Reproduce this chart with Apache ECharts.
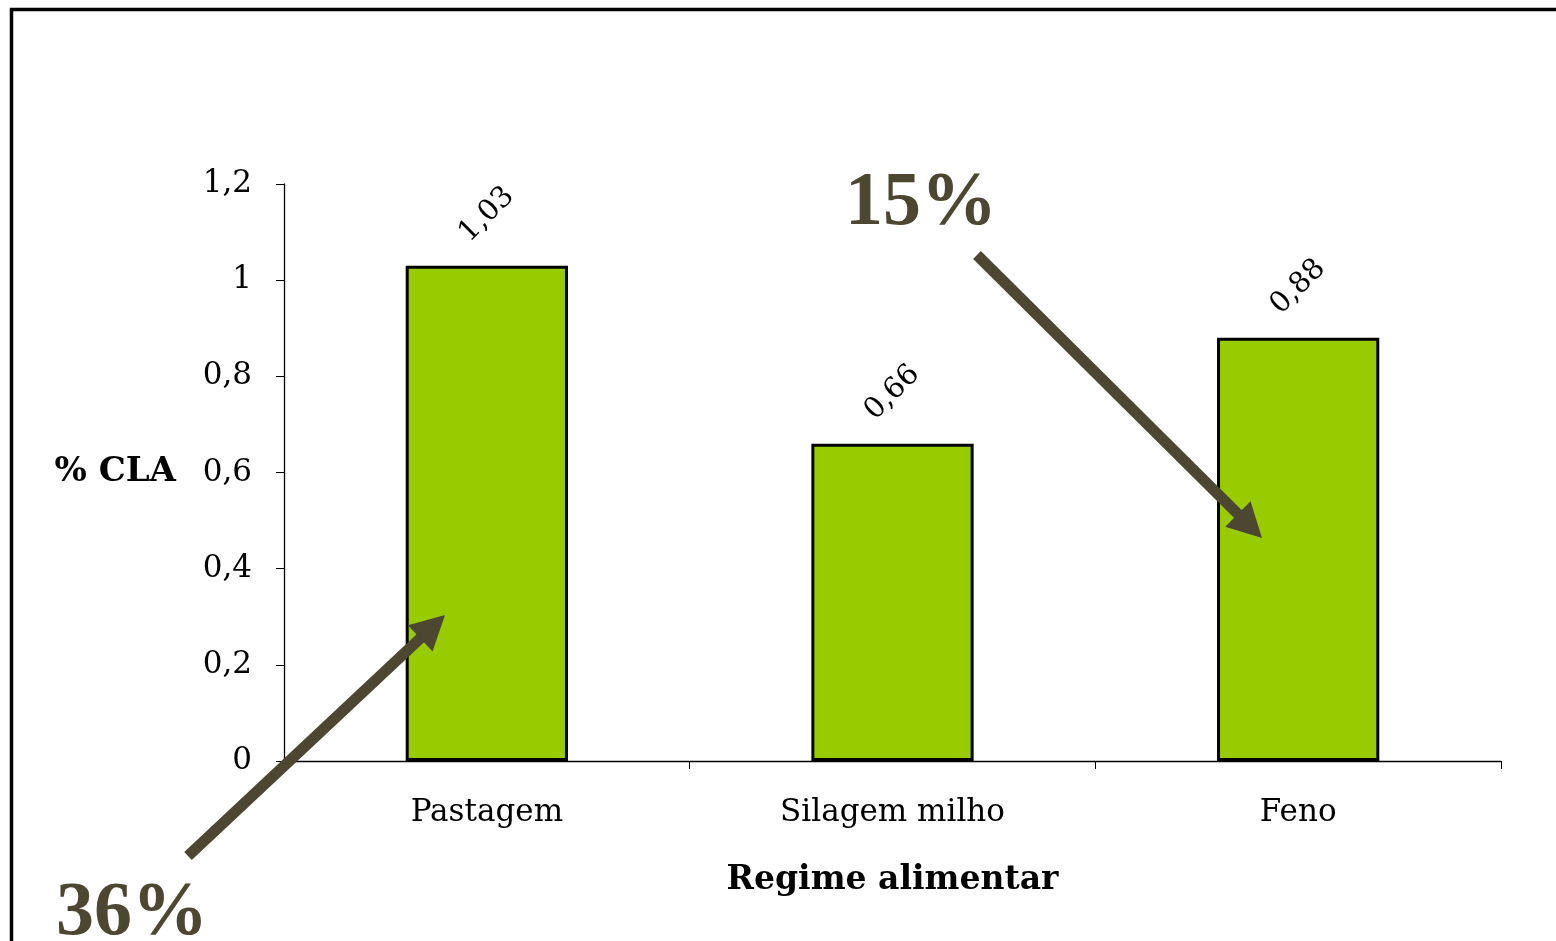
<!DOCTYPE html>
<html>
<head>
<meta charset="utf-8">
<script src="https://cdn.jsdelivr.net/npm/echarts@6/dist/echarts.min.js"></script>
<style>
	html, body { margin: 0; padding: 0; background: #fff; }
	#chart { width: 1556px; height: 941px; }
</style>
</head>
<body>
<div id="chart"></div>
<script>
// dados
const categories = ['Pastagem', 'Silagem milho', 'Feno'];
const claValues = [1.03, 0.66, 0.88];
const yTicks = { min: 0, max: 1.2, interval: 0.2 };
const notes = ['36%', '15%'];

const arrowColor = '#4d4630';

// seta: linha + cabeca triangular
function arrow (x1, y1, x2, y2) {
	const len = Math.hypot(x2 - x1, y2 - y1);
	const ux = (x2 - x1) / len, uy = (y2 - y1) / len;
	const headLen = 34, headHalf = 18;
	const bx = x2 - ux * headLen, by = y2 - uy * headLen;
	return [
		{
			type: 'line', z: 100,
			shape: { x1: x1, y1: y1, x2: bx + ux * 2, y2: by + uy * 2 },
			style: { stroke: arrowColor, lineWidth: 11, lineCap: 'butt' }
		},
		{
			type: 'polygon', z: 100,
			shape: { points: [[x2, y2], [bx - uy * headHalf, by + ux * headHalf], [bx + uy * headHalf, by - ux * headHalf]] },
			style: { fill: arrowColor }
		}
	];
}

const chart = echarts.init(document.getElementById('chart'));
const serif = 'DejaVu Serif';

const option = {
	backgroundColor: '#fff',
	animation: false,
	grid: { left: 284, top: 184, width: 1217, height: 577 },
	xAxis: {
		type: 'category',
		data: categories,
		name: 'Regime alimentar',
		nameLocation: 'middle',
		nameGap: 103,
		nameTextStyle: { fontFamily: serif, fontWeight: 'bold', fontSize: 33, color: '#000' },
		axisLine: { lineStyle: { color: '#000', width: 1.3 } },
		axisTick: { show: true, length: 8, inside: false, lineStyle: { color: '#000' } },
		axisLabel: { margin: 36, fontFamily: serif, fontSize: 31, color: '#000' }
	},
	yAxis: {
		type: 'value',
		min: yTicks.min,
		max: yTicks.max,
		interval: yTicks.interval,
		name: '% CLA',
		nameLocation: 'middle',
		nameRotate: 0,
		nameGap: 108,
		nameTextStyle: { fontFamily: serif, fontWeight: 'bold', fontSize: 34, color: '#000' },
		axisLine: { show: true, lineStyle: { color: '#000', width: 1.3 } },
		axisTick: { show: true, length: 8, lineStyle: { color: '#000' } },
		splitLine: { show: false },
		axisLabel: {
			margin: 32, fontFamily: serif, fontSize: 31, color: '#000',
			formatter: v => String(Math.round(v * 10) / 10).replace('.', ',')
		}
	},
	series: [{
		type: 'bar',
		data: claValues,
		barWidth: '40%',
		itemStyle: { color: '#99cc00', borderColor: '#000', borderWidth: 3 },
		label: {
			show: true,
			position: 'top',
			rotate: 45,
			align: 'center',
			verticalAlign: 'middle',
			distance: 51,
			fontFamily: serif,
			fontSize: 29,
			color: '#000',
			formatter: p => p.value.toFixed(2).replace('.', ',')
		}
	}],
	graphic: [
		{
			type: 'rect', z: 0, silent: true,
			shape: { x: 11.5, y: 9.5, width: 1700, height: 1100 },
			style: { fill: 'none', stroke: '#000', lineWidth: 3.5 }
		},
		...arrow(188, 856, 445, 615),
		...arrow(977, 255, 1262, 538),
		{
			type: 'text', z: 101, left: 56, top: 876,
			style: { text: notes[0], fontFamily: 'Liberation Serif', fontWeight: 'bold', fontSize: 76, fill: arrowColor }
		},
		{
			type: 'text', z: 101, left: 845, top: 166,
			style: { text: notes[1], fontFamily: 'Liberation Serif', fontWeight: 'bold', fontSize: 76, fill: arrowColor }
		}
	]
};
chart.setOption(option);
</script>
</body>
</html>
